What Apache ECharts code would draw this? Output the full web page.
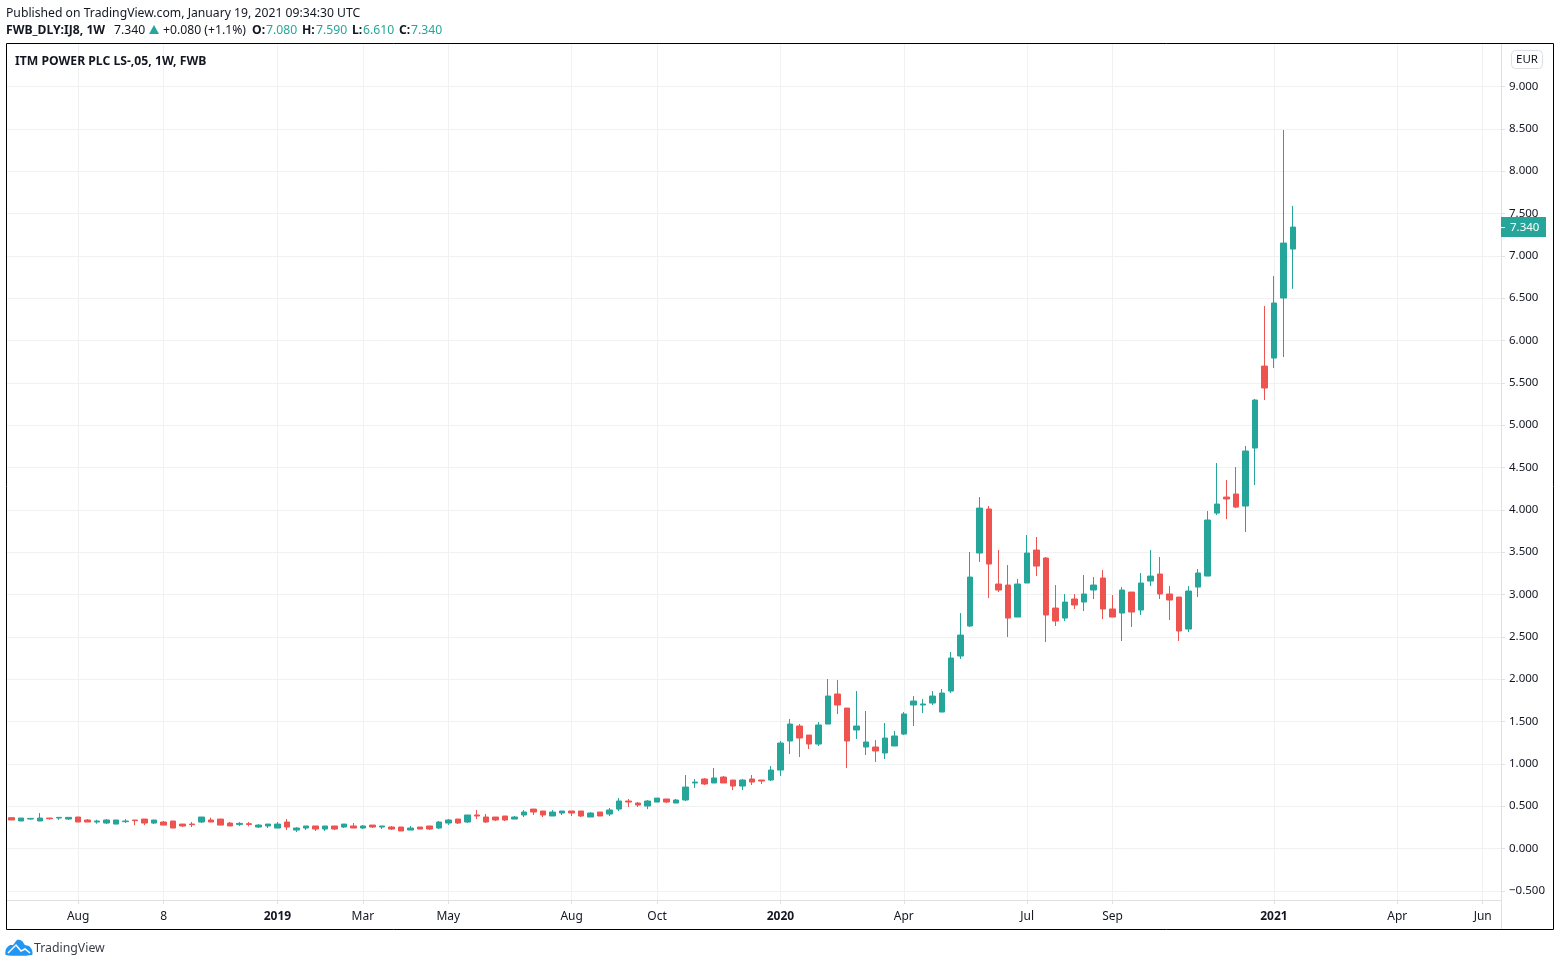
<!DOCTYPE html>
<html>
<head>
<meta charset="utf-8">
<title>ITM POWER PLC</title>
<script src="https://cdn.jsdelivr.net/npm/echarts@6/dist/echarts.min.js"></script>
<style>
  html, body { margin: 0; padding: 0; background: #fff; }
  #chart { width: 1560px; height: 966px; }
</style>
</head>
<body>
<div id="chart"></div>
<script>
// weekly candles
const opens = [
  .364,.325,.348,.325,.360,.360,.348,.372,.337,.313,
  .301,.289,.317,.337,.348,.301,.313,.325,.289,.289,
  .313,.337,.348,.301,.285,.293,.254,.266,.242,.313,
  .218,.242,.266,.230,.266,.254,.266,.242,.277,.254,
  .254,.254,.218,.254,.266,.242,.301,.348,.313,.396,
  .372,.372,.384,.348,.396,.466,.443,.384,.419,.443,
  .443,.372,.431,.407,.466,.561,.537,.502,.549,.585,
  .537,.573,.774,.821,.774,.844,.809,.738,.821,.809,
  .809,.927,1.270,1.447,1.340,1.234,1.470,1.825,1.659,1.400,
  1.199,1.199,1.128,1.211,1.352,1.695,1.695,1.718,1.612,1.860,
  2.274,2.628,3.490,4.010,3.124,3.112,2.734,3.136,3.525,3.431,
  2.840,2.722,2.947,2.911,3.053,3.195,2.829,2.781,3.029,2.817,
  3.159,3.242,3.006,2.970,2.592,3.088,3.218,3.962,4.151,4.187,
  4.045,4.730,5.698,5.793,6.502,7.080
]
const closes = [
  .337,.360,.356,.360,.352,.368,.368,.313,.313,.325,
  .337,.337,.325,.329,.301,.337,.277,.242,.266,.281,
  .372,.313,.277,.266,.297,.285,.277,.289,.289,.254,
  .242,.266,.230,.266,.230,.289,.242,.266,.254,.266,
  .230,.207,.242,.230,.230,.313,.337,.301,.396,.384,
  .313,.337,.337,.372,.431,.431,.396,.431,.443,.419,
  .384,.419,.384,.455,.561,.549,.514,.561,.596,.549,
  .573,.726,.785,.762,.833,.774,.738,.809,.785,.797,
  .927,1.246,1.470,1.305,1.234,1.459,1.801,1.695,1.270,1.447,
  1.258,1.152,1.305,1.329,1.589,1.742,1.707,1.801,1.836,2.250,
  2.521,3.206,4.021,3.360,3.053,2.722,3.124,3.490,3.336,2.758,
  2.687,2.911,2.876,3.006,3.112,2.829,2.734,3.053,2.793,3.136,
  3.218,3.006,2.935,2.569,3.041,3.254,3.880,4.069,4.128,4.033,
  4.695,5.297,5.439,6.443,7.151,7.340
]
const lows = [
  .337,.325,.340,.325,.340,.337,.337,.313,.313,.293,
  .289,.289,.301,.277,.277,.289,.277,.242,.254,.254,
  .301,.313,.277,.266,.266,.262,.242,.242,.242,.218,
  .195,.218,.207,.207,.218,.242,.242,.230,.242,.230,
  .218,.207,.218,.230,.218,.230,.278,.289,.301,.348,
  .301,.325,.325,.348,.372,.396,.372,.384,.396,.384,
  .372,.372,.384,.384,.443,.490,.490,.466,.549,.537,
  .537,.561,.715,.750,.774,.774,.691,.691,.750,.762,
  .797,.856,1.116,1.081,1.175,1.211,1.470,1.589,.951,1.293,
  1.104,1.022,1.057,1.211,1.340,1.447,1.600,1.695,1.612,1.836,
  2.238,2.616,3.384,2.959,3.029,2.498,2.734,3.136,3.218,2.439,
  2.628,2.687,2.829,2.805,2.947,2.710,2.734,2.451,2.616,2.758,
  3.100,2.947,2.699,2.451,2.557,2.970,3.218,3.939,3.891,4.021,
  3.738,4.293,5.297,5.675,5.805,6.610
]
const highs = [
  .364,.360,.356,.419,.360,.368,.368,.372,.348,.340,
  .348,.337,.348,.337,.348,.337,.325,.325,.289,.313,
  .372,.364,.348,.313,.313,.313,.289,.289,.313,.348,
  .254,.266,.266,.266,.266,.289,.301,.277,.277,.266,
  .266,.254,.266,.254,.266,.325,.348,.348,.396,.455,
  .407,.372,.384,.384,.455,.466,.443,.455,.443,.443,
  .443,.431,.431,.478,.596,.585,.549,.573,.596,.585,
  .585,.868,.821,.833,.951,.856,.809,.821,.868,.809,
  .974,1.270,1.530,1.470,1.340,1.494,2.002,1.990,1.659,1.860,
  1.624,1.281,1.482,1.388,1.612,1.801,1.766,1.860,1.884,2.321,
  2.781,3.502,4.151,4.045,3.525,3.348,3.183,3.703,3.679,3.443,
  3.112,3.006,3.006,3.230,3.206,3.289,2.994,3.088,3.029,3.254,
  3.525,3.443,3.100,2.970,3.100,3.301,3.986,4.553,4.352,4.506,
  4.754,5.309,6.407,6.761,8.486,7.590
]

// x ticks are counted in bars (the last ones lie in the empty future area)
const tickBars = [7, 16, 28, 37, 46, 59, 68, 81, 94, 107, 116, 133, 146, 155]
const tickLabels = ['Aug', '8', '2019', 'Mar', 'May', 'Aug', 'Oct', '2020', 'Apr', 'Jul', 'Sep', '2021', 'Apr', 'Jun']
const priceTicks = [-0.5, 0, 0.5, 1, 1.5, 2, 2.5, 3, 3.5, 4, 4.5, 5, 5.5, 6, 6.5, 7, 7.5, 8, 8.5, 9]
const lastPrice = 7.34

const UP = '#26a69a'
const DOWN = '#ef5350'
const INK = '#131722'
const FONT = '"Noto Sans", sans-serif'

const candles = opens.map((open, i) => [i, open, closes[i], lows[i], highs[i]])

const text = (x, y, style, extra) => ({
  type: 'text',
  x,
  y,
  silent: true,
  z: 20,
  style: { fontFamily: FONT, fontSize: 12.2, fill: INK, textVerticalAlign: 'middle', ...style },
  ...extra
})
const bold = (x, y, s) => text(x, y, { text: s, fontWeight: 'bold' })
const teal = (x, y, s) => text(x, y, { text: s, fill: UP })

const chart = echarts.init(document.getElementById('chart'), null, { renderer: 'canvas' })

chart.setOption({
  animation: false,
  backgroundColor: '#ffffff',
  grid: { left: 7, right: 59, top: 44, bottom: 66 },
  xAxis: {
    type: 'value',
    min: -0.5,
    max: 156.93,
    axisLine: { show: true, onZero: false, lineStyle: { color: '#e0e0e0' } },
    axisTick: { show: true, length: 4, lineStyle: { color: '#e0e0e0' }, customValues: tickBars },
    axisLabel: {
      customValues: tickBars,
      margin: 11,
      fontFamily: FONT,
      fontSize: 12,
      color: INK,
      formatter: value => {
        const label = tickLabels[tickBars.indexOf(value)]
        return label.length === 4 ? '{year|' + label + '}' : label
      },
      rich: { year: { fontFamily: FONT, fontSize: 12, fontWeight: 'bold', color: INK } }
    },
    splitLine: { show: true, lineStyle: { color: '#f0f1f3' } }
  },
  yAxis: {
    type: 'value',
    position: 'right',
    min: -0.608,
    max: 9.502,
    axisLine: { show: true, onZero: false, lineStyle: { color: '#e0e0e0' } },
    axisTick: { show: true, length: 4, lineStyle: { color: '#e0e0e0' }, customValues: priceTicks },
    axisLabel: {
      customValues: priceTicks,
      margin: 8,
      padding: [4, 0, 0, 0],
      fontFamily: FONT,
      fontSize: 11.5,
      color: INK,
      formatter: value => value.toFixed(3).replace('-', '\u2212')
    },
    splitLine: { show: true, lineStyle: { color: '#f0f1f3' } }
  },
  series: [{
    type: 'candlestick',
    barWidth: 6,
    data: candles,
    itemStyle: {
      color: UP,
      color0: DOWN,
      borderColor: UP,
      borderColor0: DOWN,
      borderWidth: 1
    }
  }]
})

const tagY = chart.convertToPixel({ yAxisIndex: 0 }, lastPrice)

chart.setOption({
  graphic: [
    // outer frame
    { type: 'rect', silent: true, z: 15, shape: { x: 6.5, y: 43.5, width: 1547, height: 886 },
      style: { fill: null, stroke: '#000', lineWidth: 1 } },
    { type: 'line', silent: true, z: 15, shape: { x1: 1501.5, y1: 900, x2: 1501.5, y2: 929 },
      style: { stroke: '#e0e0e0', lineWidth: 1 } },

    text(6, 14, { text: 'Published on TradingView.com, January 19, 2021 09:34:30 UTC' }),
    bold(6, 31, 'FWB_DLY:IJ8, 1W'),
    text(114, 31, { text: '7.340' }),
    { type: 'polygon', silent: true, z: 20, shape: { points: [[149, 34], [159, 34], [154, 25]] }, style: { fill: UP } },
    text(163, 31, { text: '+0.080 (+1.1%)' }),
    bold(252, 31, 'O:'), teal(266, 31, '7.080'),
    bold(302, 31, 'H:'), teal(316, 31, '7.590'),
    bold(352, 31, 'L:'), teal(363, 31, '6.610'),
    bold(399, 31, 'C:'), teal(411, 31, '7.340'),
    bold(15, 62, 'ITM POWER PLC LS-,05, 1W, FWB'),

    // currency button
    { type: 'rect', silent: true, z: 20, shape: { x: 1511.5, y: 50.5, width: 31, height: 18, r: 4 },
      style: { fill: '#fff', stroke: '#dcdfe8', lineWidth: 1 } },
    text(1527, 59.5, { text: 'EUR', textAlign: 'center', fontSize: 11.5 }),

    // last price tag
    { type: 'rect', silent: true, z: 20, shape: { x: 1501, y: tagY - 10, width: 45, height: 20 }, style: { fill: UP } },
    { type: 'line', silent: true, z: 21, shape: { x1: 1501, y1: tagY + 0.5, x2: 1505, y2: tagY + 0.5 }, style: { stroke: '#fff', lineWidth: 1 } },
    text(1510, tagY + 1, { text: lastPrice.toFixed(3), fill: '#fff', fontSize: 11.5 }, { z: 21 }),

    // logo
    { type: 'polygon', silent: true, z: 20,
      shape: { smooth: 0.25, points: [[6, 955], [6, 949], [10, 945], [13, 945], [17, 940], [22, 941], [25, 945], [29, 946], [32, 950], [32, 955]] },
      style: { fill: '#2196f3' } },
    { type: 'polyline', silent: true, z: 21, shape: { points: [[8, 953], [16, 945], [21, 951], [25, 949], [30, 953]] },
      style: { fill: null, stroke: '#fff', lineWidth: 1.5 } },
    text(34, 948, { text: 'TradingView', fontSize: 12.3, fill: '#3a3e47' })
  ]
})
</script>
</body>
</html>
